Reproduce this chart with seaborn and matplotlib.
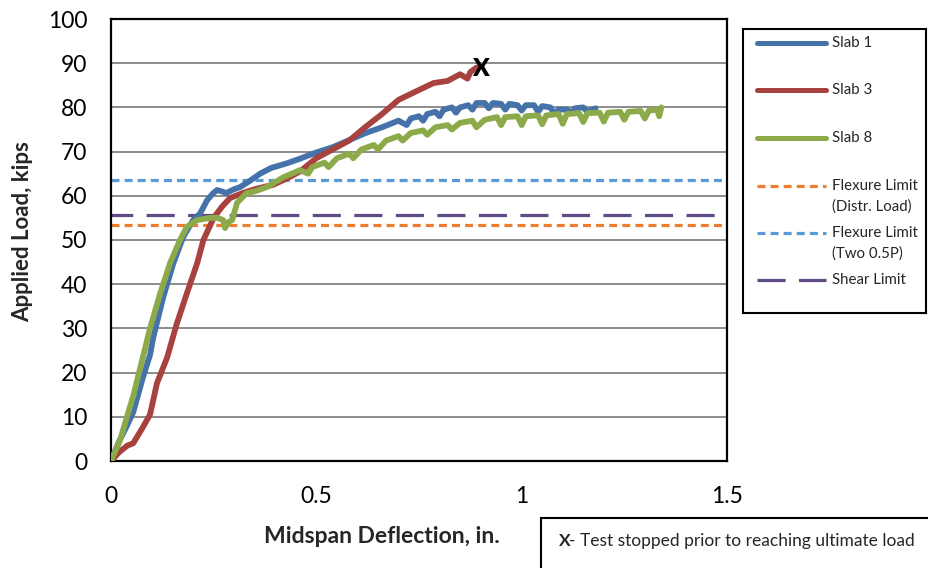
import numpy as np
import pandas as pd
import matplotlib
matplotlib.use("Agg")
import matplotlib.pyplot as plt
import seaborn as sns
from matplotlib.patches import Rectangle
from matplotlib.lines import Line2D

# ---------------- data ----------------
slab1_x = [0, 0.02, 0.039, 0.054, 0.078, 0.095, 0.103, 0.127, 0.152, 0.176, 0.20, 0.217,
           0.234, 0.248, 0.258, 0.27, 0.28, 0.30, 0.315, 0.34, 0.363, 0.39, 0.43, 0.46,
           0.50, 0.54, 0.58, 0.62, 0.66, 0.70, 0.72, 0.73, 0.75, 0.76, 0.77, 0.79, 0.80,
           0.81, 0.83, 0.84, 0.85, 0.87, 0.88, 0.89, 0.91, 0.92, 0.93, 0.95, 0.96, 0.97,
           0.99, 1.00, 1.01, 1.03, 1.04, 1.05, 1.07, 1.08, 1.09, 1.11, 1.12, 1.13, 1.15,
           1.16, 1.18]
slab1_y = [0, 4.5, 8, 11, 19, 24, 28, 37, 44.8, 50.7, 54.5, 56,
           59, 60.5, 61.3, 61, 60.6, 61.5, 62, 63.5, 65, 66.3, 67.4, 68.4,
           69.8, 71, 72.6, 74.2, 75.5, 77, 76, 77.5, 78, 77, 78.5, 79, 78,
           79.5, 80, 78.8, 80, 80.5, 79.5, 81, 81, 79.8, 81, 80.8, 79.5, 80.8,
           80.5, 79.3, 80.5, 80.5, 79, 80.3, 80, 78.5, 79.5, 79.5, 78.8, 79.8, 80,
           79, 79.8]

slab3_x = [0, 0.02, 0.04, 0.054, 0.078, 0.095, 0.112, 0.137, 0.16, 0.185, 0.21, 0.225,
           0.25, 0.27, 0.29, 0.32, 0.35, 0.395, 0.43, 0.46, 0.50, 0.54, 0.58, 0.62,
           0.66, 0.70, 0.74, 0.785, 0.82, 0.85, 0.868, 0.875, 0.89]
slab3_y = [0, 2, 3.5, 4, 7.7, 10.5, 17.6, 23.5, 31, 38, 44.8, 50,
           55, 57.5, 59.5, 60.6, 61.5, 62.5, 64, 65.5, 68.5, 70.5, 72.5, 75.6,
           78.5, 81.7, 83.5, 85.5, 86, 87.5, 86.5, 88, 89]

slab8_x = [0, 0.022, 0.039, 0.055, 0.071, 0.095, 0.12, 0.144, 0.168, 0.185, 0.21, 0.24,
           0.26, 0.273, 0.278, 0.285, 0.295, 0.307, 0.33, 0.35, 0.38, 0.42, 0.46, 0.48,
           0.49, 0.52, 0.53, 0.55, 0.58, 0.59, 0.61, 0.64, 0.65, 0.67, 0.70, 0.71, 0.73,
           0.76, 0.77, 0.79, 0.82, 0.83, 0.85, 0.88, 0.89, 0.91, 0.94, 0.95, 0.96, 0.99,
           1.00, 1.01, 1.04, 1.05, 1.06, 1.09, 1.10, 1.11, 1.14, 1.15, 1.16, 1.19, 1.20,
           1.21, 1.24, 1.25, 1.26, 1.29, 1.30, 1.31, 1.33, 1.335, 1.34]
slab8_y = [0, 4.7, 10, 15, 21, 30, 38, 44.8, 50, 53, 54.5, 55,
           55, 54.5, 52.7, 54, 54.5, 58.4, 60.6, 61, 62, 64.2, 65.8, 65,
           66.5, 67.5, 66.5, 68.5, 69.5, 68.5, 70.5, 71.5, 70.5, 72.5, 73.5, 72.5, 74.2,
           74.8, 73.8, 75.5, 76, 75, 76.5, 77, 75.5, 77.2, 77.8, 76, 77.8, 78,
           76, 78, 78.2, 76.2, 78.2, 78.5, 76.3, 78.5, 78.7, 76.7, 78.7, 78.8, 76.8,
           78.8, 79, 77.2, 79, 79.2, 77.5, 79.3, 79.5, 78, 80]

limit_names = ["Flexure Limit\n(Distr. Load)", "Flexure Limit\n(Two 0.5P)", "Shear Limit"]
limit_values = [53.4, 63.6, 55.7]

stop_x, stop_y = 0.90, 88.6

x_ticks = [0, 0.5, 1, 1.5]
x_tick_labels = ["0", "0.5", "1", "1.5"]
y_ticks = list(range(0, 101, 10))

# ---------------- styling ----------------
c_blue = "#4472A9"
c_red = "#A8423E"
c_green = "#8CAA4A"
c_orange = "#ED7D31"
c_lblue = "#5B9BD5"
c_purple = "#5F4B85"

sns.set_style("white")
plt.rcParams["font.family"] = ["Lato", "DejaVu Sans"]

W, H = 929, 568
fig = plt.figure(figsize=(W / 100, H / 100), dpi=100)
ax = fig.add_axes([111 / W, 1 - 461 / H, (727 - 111) / W, (461 - 19) / H])

df = pd.concat([
    pd.DataFrame({"x": slab1_x, "y": slab1_y, "s": "Slab 1"}),
    pd.DataFrame({"x": slab3_x, "y": slab3_y, "s": "Slab 3"}),
    pd.DataFrame({"x": slab8_x, "y": slab8_y, "s": "Slab 8"}),
])
palette = {"Slab 1": c_blue, "Slab 3": c_red, "Slab 8": c_green}

for yt in y_ticks[1:]:
    ax.axhline(yt, color="#8C8C8C", lw=1.4, zorder=0)

limit_styles = [
    dict(color=c_orange, lw=2.3, linestyle=(0, (2.5, 1.6))),
    dict(color=c_lblue, lw=2.3, linestyle=(0, (2.5, 1.6))),
    dict(color=c_purple, lw=2.3, linestyle=(2, (8.8, 4.2))),
]
for val, st in zip(limit_values, limit_styles):
    ax.axhline(val, zorder=1, **st)

sns.lineplot(data=df, x="x", y="y", hue="s", palette=palette, sort=False,
             estimator=None, lw=4.2, legend=False, ax=ax, zorder=3,
             solid_joinstyle="round", solid_capstyle="round")

ax.text(stop_x, stop_y, "X", fontsize=17.5, fontweight="heavy", ha="center",
        va="center", color="black", zorder=5)

ax.set_xlim(0, 1.5)
ax.set_ylim(0, 100)
ax.set_xticks(x_ticks)
ax.set_xticklabels(x_tick_labels)
ax.set_yticks(y_ticks)
ax.tick_params(axis="both", direction="in", length=6, width=1.5, labelsize=16.5,
               colors="black")
ax.tick_params(axis="x", pad=18)
ax.tick_params(axis="y", pad=17)
for sp in ax.spines.values():
    sp.set_color("black")
    sp.set_linewidth(1.6)
    sp.set_visible(True)

ax.set_xlabel("Midspan Deflection, in.", fontsize=16.5, fontweight="bold")
ax.xaxis.set_label_coords((382 - 111) / 616, -(526 - 461) / 442)
ax.set_ylabel("")
fig.text(23 / W, 1 - 232 / H, "Applied Load, kips", rotation=90, fontsize=16,
         fontweight="bold", ha="center", va="center")

# ---------------- legend box ----------------
lx0, ly0, lx1, ly1 = 743, 29, 926, 313
lax = fig.add_axes([lx0 / W, 1 - ly1 / H, (lx1 - lx0) / W, (ly1 - ly0) / H])
lax.set_xlim(0, lx1 - lx0)
lax.set_ylim(ly1 - ly0, 0)
lax.set_xticks([])
lax.set_yticks([])
for sp in lax.spines.values():
    sp.set_color("black")
    sp.set_linewidth(1.5)
    sp.set_visible(True)

entries = [
    ("Slab 1", dict(color=c_blue, lw=3.6, solid_capstyle="round")),
    ("Slab 3", dict(color=c_red, lw=3.6, solid_capstyle="round")),
    ("Slab 8", dict(color=c_green, lw=3.6, solid_capstyle="round")),
    (limit_names[0], limit_styles[0]),
    (limit_names[1], limit_styles[1]),
    (limit_names[2], dict(color=c_purple, lw=2.3, linestyle=(0, (8.8, 4.2)))),
]
ys = [14, 61, 109, 157, 204, 251]
for (lab, st), yy in zip(entries, ys):
    lax.add_line(Line2D([14, 83], [yy, yy], **st))
    lines = lab.split("\n")
    for k, t in enumerate(lines):
        lax.text(89, yy + k * 20.5, t, fontsize=10.8, va="center", ha="left")

# ---------------- note box ----------------
fig.patches.append(Rectangle((541 / W, 1 - 600 / H), 500 / W, (600 - 518) / H,
                             transform=fig.transFigure, fill=False,
                             edgecolor="black", lw=1.5))
fig.text(559 / W, 1 - 541 / H, "X", fontsize=12.5, fontweight="bold", va="center")
fig.text(569 / W, 1 - 541 / H, "- Test stopped prior to reaching ultimate load",
         fontsize=12.5, va="center")

fig.savefig("out.png", dpi=100)
